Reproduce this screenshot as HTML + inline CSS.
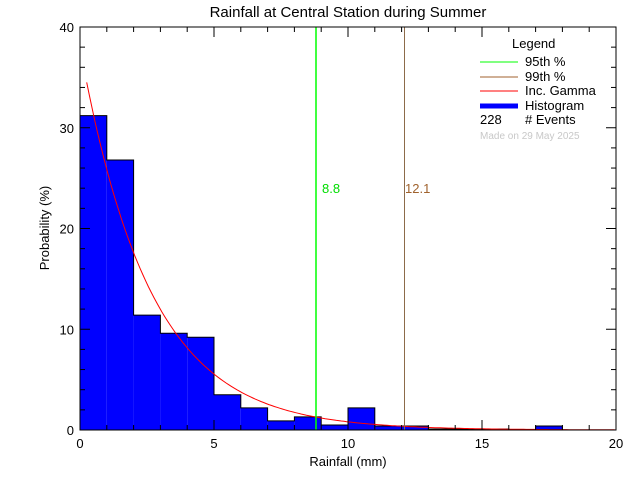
<!DOCTYPE html>
<html><head><meta charset="utf-8"><style>
html,body{margin:0;padding:0;background:#fff;}
svg text{font-family:"Liberation Sans",sans-serif;}
</style></head><body>
<svg id="s" width="640" height="480" viewBox="0 0 640 480" xmlns="http://www.w3.org/2000/svg">
<text x="348" y="17" font-size="15" text-anchor="middle">Rainfall at Central Station during Summer</text>
<g id="bars" fill="#0000ff" stroke="none"></g>
<polyline id="outline" fill="none" stroke="#000" stroke-width="1"/>
<polyline id="curve" fill="none" stroke="#ff0000" stroke-width="1"/>
<line x1="316" y1="27" x2="316" y2="430" stroke="#00ff00" stroke-width="1.5"/>
<line x1="404.5" y1="27" x2="404.5" y2="430" stroke="#8c6b4a" stroke-width="1"/>
<text x="322" y="193" font-size="13" fill="#00dd00">8.8</text>
<text x="405" y="193" font-size="13" fill="#a0622d">12.1</text>
<g id="ax" stroke="#000" stroke-width="1" fill="none"></g>
<g id="lbl" font-size="13" fill="#000"></g>
<text x="348" y="466" font-size="13" text-anchor="middle">Rainfall (mm)</text>
<text transform="translate(49,228) rotate(-90)" font-size="13" text-anchor="middle">Probability (%)</text>
<g font-size="13">
<text x="512" y="48">Legend</text>
<line x1="480" y1="62" x2="518" y2="62" stroke="#00ff00"/>
<text x="525" y="66">95th %</text>
<line x1="480" y1="77" x2="518" y2="77" stroke="#a0622d"/>
<text x="525" y="81">99th %</text>
<line x1="480" y1="91" x2="518" y2="91" stroke="#ff0000"/>
<text x="525" y="95">Inc. Gamma</text>
<line x1="480" y1="106" x2="518" y2="106" stroke="#0000ff" stroke-width="5"/>
<text x="525" y="110">Histogram</text>
<text x="480" y="124">228</text>
<text x="525" y="124"># Events</text>
<text x="480" y="139" font-size="10" fill="#c8c8c8">Made on 29 May 2025</text>
</g>
</svg>
<script>
var X0=80,X1=616,Y0=430,Y1=27,sx=(X1-X0)/20,sy=(Y0-Y1)/40,ns="http://www.w3.org/2000/svg";
function px(v){return X0+v*sx}function py(v){return Y0-v*sy}
function el(p,t,a){var e=document.createElementNS(ns,t);for(var k in a)e.setAttribute(k,a[k]);p.appendChild(e);return e}
var h=[31.2,26.8,11.4,9.6,9.2,3.5,2.2,0.9,1.3,0.5,2.2,0.4,0.4,0.1,0.1,0.1,0,0.4,0,0];
var b=document.getElementById('bars');var op=[px(0)+','+Y0];
h.forEach(function(v,i){if(v>0)el(b,'rect',{x:px(i),y:py(v),width:sx,height:v*sy});op.push(px(i)+','+py(v));op.push(px(i+1)+','+py(v));});
op.push(px(20)+','+Y0);
document.getElementById('outline').setAttribute('points',op.join(' '));
var pts=[];for(var x=0.25;x<=20;x+=0.1){var f=34.5*Math.exp(-(x-0.25)/2.6);pts.push(px(x).toFixed(1)+','+py(f).toFixed(1));}
document.getElementById('curve').setAttribute('points',pts.join(' '));
var a=document.getElementById('ax'),l=document.getElementById('lbl');
el(a,'rect',{x:X0,y:Y1,width:X1-X0,height:Y0-Y1});
for(var i=0;i<=20;i++){var L=i%5?5:10;el(a,'line',{x1:px(i),y1:Y0,x2:px(i),y2:Y0-L});el(a,'line',{x1:px(i),y1:Y1,x2:px(i),y2:Y1+L});
if(i%5==0){var t=el(l,'text',{x:px(i),y:Y0+18,'text-anchor':'middle'});t.textContent=i;}}
for(var j=0;j<=40;j+=2){var L=j%10?5:10;el(a,'line',{x1:X0,y1:py(j),x2:X0+L,y2:py(j)});el(a,'line',{x1:X1,y1:py(j),x2:X1-L,y2:py(j)});
if(j%10==0){var t=el(l,'text',{x:X0-6,y:py(j)+5,'text-anchor':'end'});t.textContent=j;}}
</script>
</body></html>
